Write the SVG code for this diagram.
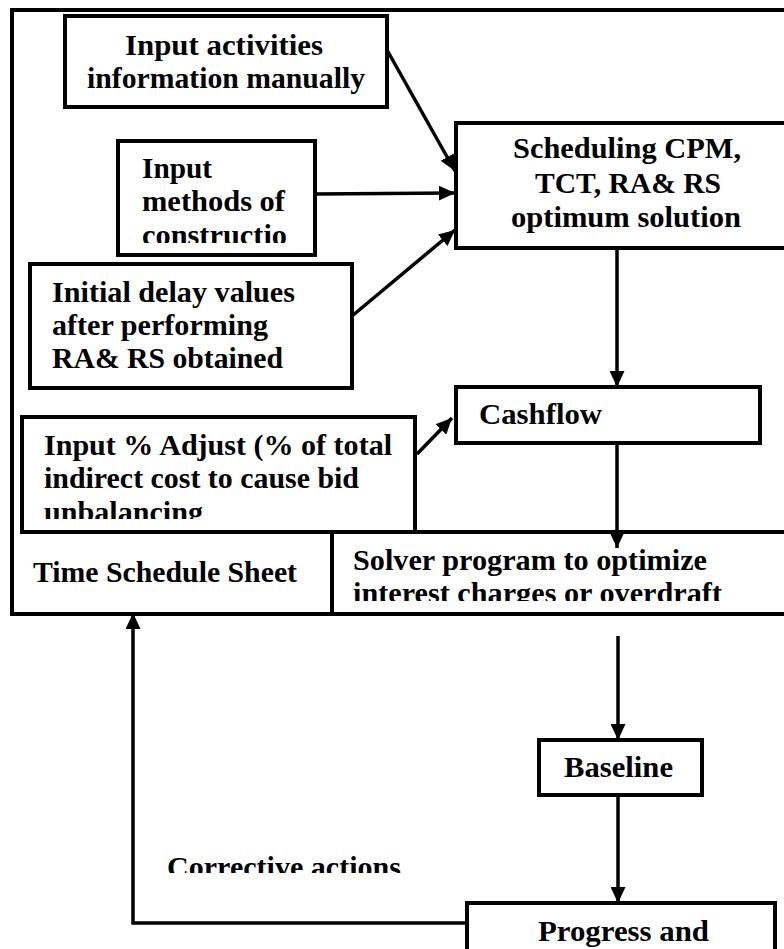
<svg xmlns="http://www.w3.org/2000/svg" width="784" height="949" viewBox="0 0 784 949">
<style>
.box{fill:#fff;stroke:#000;stroke-width:4}
.ln{fill:none;stroke:#000;stroke-width:4}
.cn{fill:none;stroke:#000;stroke-width:3.5;marker-end:url(#ah)}
.t{font-family:"Liberation Serif",serif;font-weight:700;font-size:29px;fill:#000}
</style>
<defs>
<marker id="ah" markerUnits="userSpaceOnUse" markerWidth="17" markerHeight="15" refX="16" refY="7.5" orient="auto">
<path d="M0,0 L16,7.5 L0,15 Z" fill="#000"/>
</marker>
<clipPath id="c2"><rect x="118" y="141" width="197" height="102"/></clipPath>
<clipPath id="c4"><rect x="22" y="417" width="393" height="102"/></clipPath>
<clipPath id="c5"><rect x="332" y="532" width="452" height="69"/></clipPath>
<clipPath id="c6"><rect x="150" y="820" width="300" height="53"/></clipPath>
</defs>
<rect width="784" height="949" fill="#fff"/>

<g id="frame">
<path class="ln" d="M790,10 H12 V614 H790"/>
</g>

<g id="input-activities">
<rect class="box" x="65" y="16" width="322" height="91"/>
<text class="t" x="125" y="55" textLength="198" lengthAdjust="spacingAndGlyphs">Input activities</text>
<text class="t" x="87" y="88" textLength="278" lengthAdjust="spacingAndGlyphs">information manually</text>
</g>

<g id="input-methods">
<rect class="box" x="118" y="141" width="197" height="114"/>
<g clip-path="url(#c2)">
<text class="t" x="142" y="178" textLength="70" lengthAdjust="spacingAndGlyphs">Input</text>
<text class="t" x="142" y="211" textLength="143" lengthAdjust="spacingAndGlyphs">methods of</text>
<text class="t" x="142" y="245" textLength="145" lengthAdjust="spacingAndGlyphs">constructio</text>
</g>
</g>

<g id="initial-delay">
<rect class="box" x="30" y="264" width="322" height="124"/>
<text class="t" x="52" y="302" textLength="243" lengthAdjust="spacingAndGlyphs">Initial delay values</text>
<text class="t" x="52" y="335" textLength="216" lengthAdjust="spacingAndGlyphs">after performing</text>
<text class="t" x="52" y="368" textLength="231" lengthAdjust="spacingAndGlyphs">RA&amp; RS obtained</text>
</g>

<g id="input-adjust">
<path class="ln" d="M415,532 V417 H22 V532 H790"/>
<g clip-path="url(#c4)">
<text class="t" x="44" y="455" textLength="348" lengthAdjust="spacingAndGlyphs">Input % Adjust (% of total</text>
<text class="t" x="44" y="488" textLength="315" lengthAdjust="spacingAndGlyphs">indirect cost to cause bid</text>
<text class="t" x="44" y="522" textLength="159" lengthAdjust="spacingAndGlyphs">unbalancing</text>
</g>
</g>

<g id="time-schedule-sheet">
<text class="t" x="33" y="582" textLength="264" lengthAdjust="spacingAndGlyphs">Time Schedule Sheet</text>
</g>

<g id="solver">
<path class="ln" d="M332,532 V614"/>
<g clip-path="url(#c5)">
<text class="t" x="353" y="570" textLength="354" lengthAdjust="spacingAndGlyphs">Solver program to optimize</text>
<text class="t" x="353" y="603" textLength="369" lengthAdjust="spacingAndGlyphs">interest charges or overdraft</text>
</g>
</g>

<g id="scheduling">
<rect class="box" x="456" y="123" width="340" height="125"/>
<text class="t" x="627" y="158" text-anchor="middle" textLength="228" lengthAdjust="spacingAndGlyphs">Scheduling CPM,</text>
<text class="t" x="628" y="193" text-anchor="middle" textLength="186" lengthAdjust="spacingAndGlyphs">TCT, RA&amp; RS</text>
<text class="t" x="626" y="227" text-anchor="middle" textLength="230" lengthAdjust="spacingAndGlyphs">optimum solution</text>
</g>

<g id="cashflow">
<rect class="box" x="456" y="387" width="304" height="56"/>
<text class="t" x="479" y="424" textLength="123" lengthAdjust="spacingAndGlyphs">Cashflow</text>
</g>

<g id="baseline">
<rect class="box" x="539" y="740" width="163" height="55"/>
<text class="t" x="564" y="777" textLength="109" lengthAdjust="spacingAndGlyphs">Baseline</text>
</g>

<g id="progress">
<rect class="box" x="467" y="903" width="308" height="60"/>
<text class="t" x="538" y="941" textLength="171" lengthAdjust="spacingAndGlyphs">Progress and</text>
</g>

<g id="corrective-label">
<g clip-path="url(#c6)">
<text class="t" x="167" y="877" textLength="234" lengthAdjust="spacingAndGlyphs">Corrective actions</text>
</g>
</g>

<g id="connectors">
<line class="cn" x1="387" y1="50" x2="455" y2="171"/>
<line class="cn" x1="315" y1="194" x2="455" y2="193"/>
<line class="cn" x1="352" y1="316" x2="455" y2="230"/>
<line class="cn" x1="617" y1="248" x2="617" y2="387"/>
<line class="cn" x1="417" y1="454" x2="452" y2="418"/>
<line class="cn" x1="617" y1="443" x2="617" y2="548"/>
<line class="cn" x1="618" y1="636" x2="618" y2="740"/>
<line class="cn" x1="618" y1="795" x2="618" y2="903"/>
<polyline class="cn" points="467,923 133,923 133,613"/>
</g>
</svg>
